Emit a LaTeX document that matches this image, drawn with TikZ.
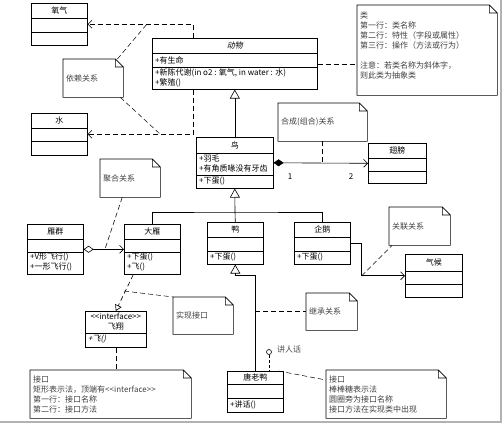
\documentclass[tikz,border=0pt]{standalone}
\usepackage{fontspec}
\setmainfont{Noto Sans CJK SC}
\newfontfamily\slantfont[FakeSlant=0.2]{Noto Sans CJK SC}
\usetikzlibrary{arrows.meta,positioning}

\tikzset{
  every node/.style={font=\fontsize{8}{10}\selectfont, inner sep=0pt},
  umlclass/.style={draw, line width=0.6pt, fill=white, anchor=north west},
  member/.style={anchor=west},
  notebox/.style={anchor=north west, align=left, inner xsep=3pt, text=black!75},
  notelink/.style={dash pattern=on 5pt off 3pt, line width=0.5pt},
  dep/.style={dash pattern=on 5pt off 3pt, line width=0.6pt, -{Straight Barb[length=4pt,width=8pt]}},
  realize/.style={dash pattern=on 5pt off 3pt, line width=0.6pt, -{Triangle[open,length=6pt,width=7pt]}},
  inherit/.style={line width=0.6pt, -{Triangle[open,length=9pt,width=10pt]}},
  compose/.style={line width=0.6pt, {Diamond[length=10pt,width=7pt]}-{Straight Barb[length=4pt,width=8pt]}},
  aggregate/.style={line width=0.6pt, {Diamond[open,length=10pt,width=7pt]}-{Straight Barb[length=4pt,width=8pt]}},
  assoc/.style={line width=0.6pt, -{Straight Barb[length=4pt,width=8pt]}}
}

\begin{document}
\begin{tikzpicture}[x=1pt,y=-1pt]
\useasboundingbox (0,0) rectangle (504,425);

% classes
\node[umlclass, minimum width=56pt, minimum height=42pt] (oxygen) at (31,3) {};
\node (oxygen-t) at ([yshift=-7.5pt]oxygen.north) {氧气};
\draw ([yshift=-15pt]oxygen.north west) -- ([yshift=-15pt]oxygen.north east);
\draw ([yshift=-29pt]oxygen.north west) -- ([yshift=-29pt]oxygen.north east);

\node[umlclass, minimum width=56pt, minimum height=42pt] (water) at (31,113) {};
\node (water-t) at ([yshift=-7.5pt]water.north) {水};
\draw ([yshift=-15pt]water.north west) -- ([yshift=-15pt]water.north east);
\draw ([yshift=-28pt]water.north west) -- ([yshift=-28pt]water.north east);

\node[umlclass, minimum width=165pt, minimum height=51pt] (animal) at (152,38) {};
\node (animal-t) at ([yshift=-7.5pt]animal.north) {\slantfont 动物};
\draw ([yshift=-15pt]animal.north west) -- ([yshift=-15pt]animal.north east);
\draw ([yshift=-29pt]animal.north west) -- ([yshift=-29pt]animal.north east);
\node[member] (animal-a) at ([xshift=3pt,yshift=-22pt]animal.north west) {+有生命};
\node[member] (animal-m1) at ([xshift=3pt,yshift=-35pt]animal.north west) {+新陈代谢(in o2 : 氧气, in water : 水)};
\node[member] (animal-m2) at ([xshift=3pt,yshift=-45pt]animal.north west) {+繁殖()};

\node[umlclass, minimum width=77pt, minimum height=51pt] (bird) at (196,137) {};
\node (bird-t) at ([yshift=-8pt]bird.north) {鸟};
\draw ([yshift=-16pt]bird.north west) -- ([yshift=-16pt]bird.north east);
\draw ([yshift=-38pt]bird.north west) -- ([yshift=-38pt]bird.north east);
\node[member] (bird-a1) at ([xshift=3pt,yshift=-21pt]bird.north west) {+羽毛};
\node[member] (bird-a2) at ([xshift=3pt,yshift=-31pt]bird.north west) {+有角质喙没有牙齿};
\node[member] (bird-m) at ([xshift=3pt,yshift=-44pt]bird.north west) {+下蛋()};

\node[umlclass, minimum width=58pt, minimum height=40pt] (wing) at (368,143) {};
\node (wing-t) at ([yshift=-7pt]wing.north) {翅膀};
\draw ([yshift=-15pt]wing.north west) -- ([yshift=-15pt]wing.north east);
\draw ([yshift=-28pt]wing.north west) -- ([yshift=-28pt]wing.north east);

\node[umlclass, minimum width=56pt, minimum height=50pt] (geese) at (27,224) {};
\node (geese-t) at ([yshift=-7.5pt]geese.north) {雁群};
\draw ([yshift=-15pt]geese.north west) -- ([yshift=-15pt]geese.north east);
\draw ([yshift=-28pt]geese.north west) -- ([yshift=-28pt]geese.north east);
\node[member] (geese-m1) at ([xshift=3pt,yshift=-33pt]geese.north west) {+V形飞行()};
\node[member] (geese-m2) at ([xshift=3pt,yshift=-43pt]geese.north west) {+一形飞行()};

\node[umlclass, minimum width=56pt, minimum height=50pt] (goose) at (124,224) {};
\node (goose-t) at ([yshift=-7.5pt]goose.north) {大雁};
\draw ([yshift=-15pt]goose.north west) -- ([yshift=-15pt]goose.north east);
\draw ([yshift=-28pt]goose.north west) -- ([yshift=-28pt]goose.north east);
\node[member] (goose-m1) at ([xshift=3pt,yshift=-33pt]goose.north west) {+下蛋()};
\node[member] (goose-m2) at ([xshift=3pt,yshift=-43pt]goose.north west) {+飞()};

\node[umlclass, minimum width=56pt, minimum height=42pt] (duck) at (207,222) {};
\node (duck-t) at ([yshift=-7.5pt]duck.north) {鸭};
\draw ([yshift=-15pt]duck.north west) -- ([yshift=-15pt]duck.north east);
\draw ([yshift=-29pt]duck.north west) -- ([yshift=-29pt]duck.north east);
\node[member] (duck-m) at ([xshift=3pt,yshift=-35pt]duck.north west) {+下蛋()};

\node[umlclass, minimum width=56pt, minimum height=42pt] (penguin) at (294,222) {};
\node (penguin-t) at ([yshift=-7.5pt]penguin.north) {企鹅};
\draw ([yshift=-15pt]penguin.north west) -- ([yshift=-15pt]penguin.north east);
\draw ([yshift=-29pt]penguin.north west) -- ([yshift=-29pt]penguin.north east);
\node[member] (penguin-m) at ([xshift=3pt,yshift=-35pt]penguin.north west) {+下蛋()};

\node[umlclass, minimum width=57pt, minimum height=43pt] (climate) at (405,254) {};
\node (climate-t) at ([yshift=-8pt]climate.north) {气候};
\draw ([yshift=-17pt]climate.north west) -- ([yshift=-17pt]climate.north east);
\draw ([yshift=-30pt]climate.north west) -- ([yshift=-30pt]climate.north east);

\node[umlclass, minimum width=61pt, minimum height=36pt] (fly) at (85,311) {};
\node (fly-s) at ([yshift=-5pt]fly.north) {<{}<interface>{}>};
\node (fly-t) at ([yshift=-15pt]fly.north) {飞翔};
\draw ([yshift=-22pt]fly.north west) -- ([yshift=-22pt]fly.north east);
\node[member] (fly-m) at ([xshift=3pt,yshift=-28pt]fly.north west) {\slantfont +飞()};

\node[umlclass, minimum width=56pt, minimum height=41pt] (donald) at (227,371) {};
\node (donald-t) at ([yshift=-6.5pt]donald.north) {唐老鸭};
\draw ([yshift=-13pt]donald.north west) -- ([yshift=-13pt]donald.north east);
\draw ([yshift=-27pt]donald.north west) -- ([yshift=-27pt]donald.north east);
\node[member] (donald-m) at ([xshift=3pt,yshift=-34pt]donald.north west) {+讲话()};

% notes
\node[notebox, text width=54pt, minimum height=38pt] (depnote) at (63,59) {依赖关系};
\node[notebox, text width=134pt, minimum height=90pt] (classnote) at (357,5)
  {类\\第一行：类名称\\第二行：特性（字段或属性）\\第三行：操作（方法或行为）\\ \mbox{}\\注意：若类名称为斜体字，\\则此类为抽象类\\ \mbox{}};
\node[notebox, text width=83pt, minimum height=38pt] (compnote) at (278,103) {合成(组合)关系};
\node[notebox, text width=54pt, minimum height=38pt] (aggnote) at (100,159) {聚合关系};
\node[notebox, text width=55pt, minimum height=38pt] (assocnote) at (389,207) {关联关系};
\node[notebox, text width=54pt, minimum height=37pt] (implnote) at (173,297) {实现接口};
\node[notebox, text width=45pt, minimum height=37pt] (inhnote) at (306,293) {继承关系};
\node[notebox, text width=155pt, minimum height=48pt] (ifnote) at (30,370)
  {接口\\矩形表示法，顶端有<{}<interface>{}>\\第一行：接口名称\\第二行：接口方法};
\node[notebox, text width=114pt, minimum height=48pt] (lolnote) at (326,370)
  {接口\\棒棒糖表示法\\圆圈旁为接口名称\\接口方法在实现类中出现};

\foreach \n in {depnote,classnote,compnote,aggnote,assocnote,implnote,inhnote,ifnote,lolnote}{
  \draw[line width=0.6pt] (\n.south west) -- (\n.north west) -- ([xshift=-8pt]\n.north east)
    -- ([yshift=-8pt]\n.north east) -- (\n.south east) -- cycle
    ([xshift=-8pt]\n.north east) |- ([yshift=-8pt]\n.north east);
}

% dependency
\draw[dep] ([xshift=41pt]animal.north west) |- (oxygen.east);
\draw[dep] ([xshift=41pt]animal.south west) |- (water.east);
\coordinate (o2pt) at (147,24);
\coordinate (h2opt) at (160,134);
\draw[notelink] ([xshift=-6pt]depnote.north east) -- (o2pt);
\draw[notelink] ([xshift=-3pt]depnote.south east) -- (h2opt);
\draw[notelink] (animal.east) -- (animal.east -| classnote.west);

% generalization
\coordinate (tree) at (235,212);
\draw[inherit] (bird.north) -- (animal.south);
\draw[inherit] (tree) -- (bird.south);
\draw[line width=0.6pt] (goose.north) |- (tree) -| (penguin.north);
\draw[line width=0.6pt] (duck.north) -- (tree);
\draw[inherit] (donald.north) |- ([yshift=-11pt]duck.south) -- (duck.south);
\draw[notelink] (donald.north |- inhnote.west) -- (inhnote.west);

% composition
\draw[compose] (bird.east) -- (wing.west);
\node (mult1) at (290,177) {1};
\node (mult2) at (351,177) {2};
\draw[notelink] (compnote.south) -- (compnote.south |- bird.east);

% aggregation
\draw[aggregate] (geese.east) -- (goose.west);
\coordinate (aggpt) at (105,249);
\draw[notelink] ([xshift=-8pt]aggnote.south) -- (aggpt);

% association
\coordinate (assoccorner) at ([xshift=11pt]penguin.east |- climate.west);
\draw[assoc] (penguin.east) -| (assoccorner) -- (climate.west);
\draw[notelink] (assoccorner) -- ([xshift=3pt]assocnote.south west);

% interfaces
\draw[realize] ([xshift=-19pt]goose.south) -- (fly.north);
\coordinate (implpt) at (124,291);
\draw[notelink] (implpt) -- (implnote.north west);
\draw[notelink] (fly.south) -- (fly.south |- ifnote.north);

\node[draw, circle, minimum size=5pt, line width=0.6pt] (talk) at (269,352) {};
\node[right=5pt of talk, yshift=3pt, text=black!70] (talklabel) {讲人话};
\draw[densely dashed, line width=0.6pt] (talk.south) -- (talk.south |- donald.north);
\draw[notelink] ([xshift=-5pt]donald.north east) -- ([yshift=-10pt]lolnote.north west);

% frame
\draw[gray!60, line width=2pt] (0,422) -- (501,422) -- (501,0);
\end{tikzpicture}
\end{document}
